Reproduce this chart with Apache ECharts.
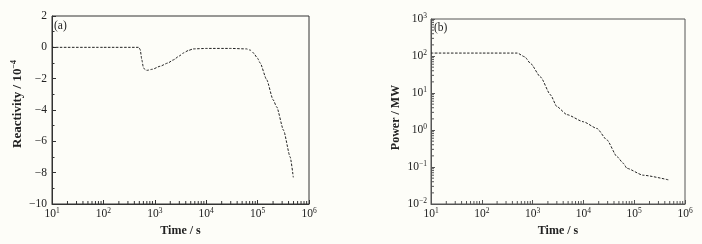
<!DOCTYPE html>
<html>
<head>
<meta charset="utf-8">
<script src="https://cdn.jsdelivr.net/npm/echarts@6/dist/echarts.min.js"></script>
<style>
  html, body { margin: 0; padding: 0; background: #fdfdf8; }
  #chart { width: 702px; height: 244px; }
</style>
</head>
<body>
<div id="chart"></div>
<script>
// panel (a): reactivity vs time
var timeA = [10, 100, 490, 520, 560, 600, 650, 700, 900, 1260, 1800, 2300, 3000, 3600, 4500, 5600, 10000, 30000, 61000, 72000, 83000, 100000, 112000, 150000, 200000, 235000, 320000, 430000, 495000];
var reactivity = [0, 0, 0, -0.15, -0.8, -1.3, -1.43, -1.47, -1.4, -1.21, -1.0, -0.8, -0.55, -0.36, -0.2, -0.1, -0.07, -0.07, -0.1, -0.18, -0.36, -0.7, -1.0, -2.06, -3.34, -3.8, -5.3, -7.0, -8.3];

// panel (b): power vs time
var timeB = [10, 100, 500, 700, 910, 1435, 2250, 3000, 4760, 10000, 18500, 29000, 46000, 61000, 72000, 150000, 470000];
var power = [120, 120, 120, 95, 63, 27, 8.9, 4.3, 2.6, 1.67, 1.1, 0.54, 0.19, 0.126, 0.092, 0.06, 0.045];

var font = 'Liberation Serif';
var frameA = '#333333';
var frameB = '#555555';

function pairs(xs, ys) {
  return xs.map(function (x, i) { return [x, ys[i]]; });
}

// log-spaced minor tick positions (2..9 x 10^k) - axis decoration, not data
function logMinor(lo, hi) {
  var out = [];
  for (var k = lo; k < hi; k++) {
    for (var m = 2; m <= 9; m++) out.push(m * Math.pow(10, k));
  }
  return out;
}

function supLabel(v) {
  var e = Math.round(Math.log10(v));
  return '{b|10}{s|' + (e < 0 ? '\u2212' + (-e) : e) + '}';
}

var supRich = {
  b: { fontFamily: font, fontSize: 11.5, color: '#222', lineHeight: 14 },
  s: { fontFamily: font, fontSize: 7.5, color: '#222', lineHeight: 8, verticalAlign: 'top' }
};

// little inward tick marks drawn as thin rect symbols
function tickSeries(name, xi, yi, vals, horiz, fixed, color) {
  return {
    name: name,
    type: 'scatter',
    xAxisIndex: xi,
    yAxisIndex: yi,
    silent: true,
    clip: false,
    symbol: 'rect',
    symbolSize: horiz ? [1, 3] : [3, 1],
    symbolOffset: horiz ? [0, -1.5] : [1.5, 0],
    itemStyle: { color: color, opacity: 1 },
    data: vals.map(function (v) { return horiz ? [v, fixed] : [fixed, v]; }),
    z: 4
  };
}

function nameStyle() {
  return { fontFamily: font, fontWeight: 'bold', fontSize: 12, color: '#222' };
}

function majorTick(color) {
  return { show: true, inside: true, length: 4, lineStyle: { color: color, width: 1 } };
}

var dom = document.getElementById('chart');
var myChart = echarts.init(dom, null, { renderer: 'canvas' });

var option = {
  backgroundColor: '#fdfdf8',
  animation: false,
  grid: [
    { left: 52, top: 16, width: 257, height: 188, show: true, borderColor: frameA, borderWidth: 1, backgroundColor: 'transparent' },
    { left: 431, top: 19, width: 254, height: 185, show: true, borderColor: frameB, borderWidth: 1, backgroundColor: 'transparent' }
  ],
  graphic: [
    { type: 'text', left: 54, top: 20, style: { text: '(a)', font: '11.5px "Liberation Serif"', fill: '#222' } },
    { type: 'text', left: 434, top: 22, style: { text: '(b)', font: '11.5px "Liberation Serif"', fill: '#222' } }
  ],
  xAxis: [
    {
      type: 'log', gridIndex: 0, min: 10, max: 1e6, logBase: 10,
      name: 'Time / s', nameLocation: 'middle', nameGap: 18, nameTextStyle: nameStyle(),
      axisLine: { show: true, onZero: false, lineStyle: { color: frameA } },
      axisTick: majorTick(frameA),
      axisLabel: { show: true, margin: 3, formatter: supLabel, rich: supRich, showMinLabel: true, showMaxLabel: true },
      splitLine: { show: false }
    },
    {
      type: 'log', gridIndex: 1, min: 10, max: 1e6, logBase: 10,
      name: 'Time / s', nameLocation: 'middle', nameGap: 18, nameTextStyle: nameStyle(),
      axisLine: { show: true, onZero: false, lineStyle: { color: frameB } },
      axisTick: majorTick(frameB),
      axisLabel: { show: true, margin: 3, formatter: supLabel, rich: supRich, showMinLabel: true, showMaxLabel: true },
      splitLine: { show: false }
    }
  ],
  yAxis: [
    {
      type: 'value', gridIndex: 0, min: -10, max: 2, interval: 2,
      name: '{n|Reactivity / 10}{s|\u22124}', nameLocation: 'middle', nameGap: 27,
      nameTextStyle: {
        padding: [0, 0, 0, 12],
        rich: {
          n: { fontFamily: font, fontWeight: 'bold', fontSize: 13, color: '#222', lineHeight: 15 },
          s: { fontFamily: font, fontWeight: 'bold', fontSize: 8, color: '#222', lineHeight: 8, verticalAlign: 'top' }
        }
      },
      axisLine: { show: true, onZero: false, lineStyle: { color: frameA } },
      axisTick: majorTick(frameA),
      minorTick: { show: true, splitNumber: 2, length: 2.5, lineStyle: { color: frameA, width: 1 } },
      axisLabel: {
        show: true, margin: 5, fontFamily: font, fontSize: 11.5, color: '#222',
        formatter: function (v) { return v < 0 ? '\u2212' + (-v) : String(v); }
      },
      splitLine: { show: false }
    },
    {
      type: 'log', gridIndex: 1, min: 0.01, max: 1000, logBase: 10,
      name: 'Power / MW', nameLocation: 'middle', nameGap: 29,
      nameTextStyle: { fontFamily: font, fontWeight: 'bold', fontSize: 12, color: '#222', padding: [0, 12, 0, 0] },
      axisLine: { show: true, onZero: false, lineStyle: { color: frameB } },
      axisTick: majorTick(frameB),
      axisLabel: { show: true, margin: 4, formatter: supLabel, rich: supRich, showMinLabel: true, showMaxLabel: true },
      splitLine: { show: false }
    }
  ],
  series: [
    {
      name: 'reactivity', type: 'line', xAxisIndex: 0, yAxisIndex: 0,
      data: pairs(timeA, reactivity), showSymbol: false, smooth: 0.2, smoothMonotone: 'x',
      lineStyle: { color: '#222', width: 1, type: [2.5, 1.5] }, z: 3
    },
    {
      name: 'power', type: 'line', xAxisIndex: 1, yAxisIndex: 1,
      data: pairs(timeB, power), showSymbol: false, smooth: 0.2, smoothMonotone: 'x',
      lineStyle: { color: '#222', width: 1, type: [2.5, 1.5] }, z: 3
    },
    tickSeries('ticksAx', 0, 0, logMinor(1, 6), true, -10, frameA),
    tickSeries('ticksBx', 1, 1, logMinor(1, 6), true, 0.01, frameB),
    tickSeries('ticksBy', 1, 1, logMinor(-2, 3), false, 10, frameB)
  ]
};

myChart.setOption(option);
</script>
</body>
</html>
